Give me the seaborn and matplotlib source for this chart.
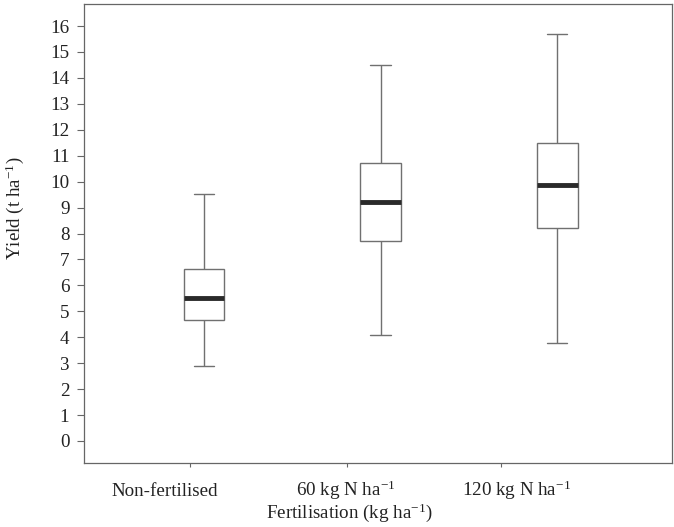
import numpy as np
import pandas as pd
import matplotlib.pyplot as plt
import seaborn as sns

# --- DATA (five-number summaries) ---
groups = ['Non-fertilised', '60 kg N ha$^{-1}$', '120 kg N ha$^{-1}$']
yield_min = [2.90, 4.08, 3.76]
yield_q1 = [4.66, 7.72, 8.23]
yield_median = [5.51, 9.20, 9.86]
yield_q3 = [6.64, 10.72, 11.50]
yield_max = [9.53, 14.50, 15.68]
yticks = list(range(0, 17))

# five points per group -> quartiles land exactly on the summary values
rows = []
for i, g in enumerate(groups):
    for v in (yield_min[i], yield_q1[i], yield_median[i], yield_q3[i], yield_max[i]):
        rows.append({'group': g, 'yield': v})
df = pd.DataFrame(rows)

# --- STYLE ---
sns.set_style("ticks")
plt.rcParams['font.family'] = ['Liberation Serif', 'DejaVu Serif']
plt.rcParams['mathtext.fontset'] = 'custom'
plt.rcParams['mathtext.rm'] = 'Liberation Serif'
plt.rcParams['mathtext.it'] = 'Liberation Serif:italic'
fs = 13.7

fig = plt.figure(figsize=(6.74, 5.27), dpi=100)
ax = fig.add_axes([0.1246, 0.1214, 0.8724, 0.8710])

sns.boxplot(data=df, x='group', y='yield', order=groups, width=0.23,
            whis=(0, 100), color='white', linecolor='#707070', linewidth=1,
            medianprops=dict(color='#2a2a2a', linewidth=3.5),
            fliersize=0, ax=ax)

ax.set_xlim(-0.68, 2.65)
ax.set_ylim(-0.85, 16.85)
ax.set_yticks(yticks)
ax.tick_params(axis='y', length=5, width=0.8, color='#666666', pad=5.5,
               labelsize=fs, labelcolor='#222222')

# labels sit a bit off the tick marks in the original
ax.set_xticks([-0.22, 0.80, 1.77], labels=groups)
ax.set_xticks([-0.08, 0.81, 1.68], minor=True)
ax.tick_params(axis='x', which='major', length=0, pad=23.5, labelsize=fs,
               labelcolor='#222222')
ax.tick_params(axis='x', which='minor', length=3, width=0.8, color='#666666')
for lab in ax.get_xticklabels():
    lab.set_va('baseline')

for s in ax.spines.values():
    s.set_color('#666666')
    s.set_linewidth(0.9)

ax.set_xlabel('Fertilisation (kg ha$^{-1}$)', fontsize=fs, color='#222222')
ax.set_ylabel('Yield (t ha$^{-1}$)', fontsize=fs, color='#222222')
ax.xaxis.label.set_va('baseline')
ax.xaxis.set_label_coords(0.451, -0.120)
ax.yaxis.set_label_coords(-0.099, 0.555)

fig.savefig('out.png', dpi=100)
